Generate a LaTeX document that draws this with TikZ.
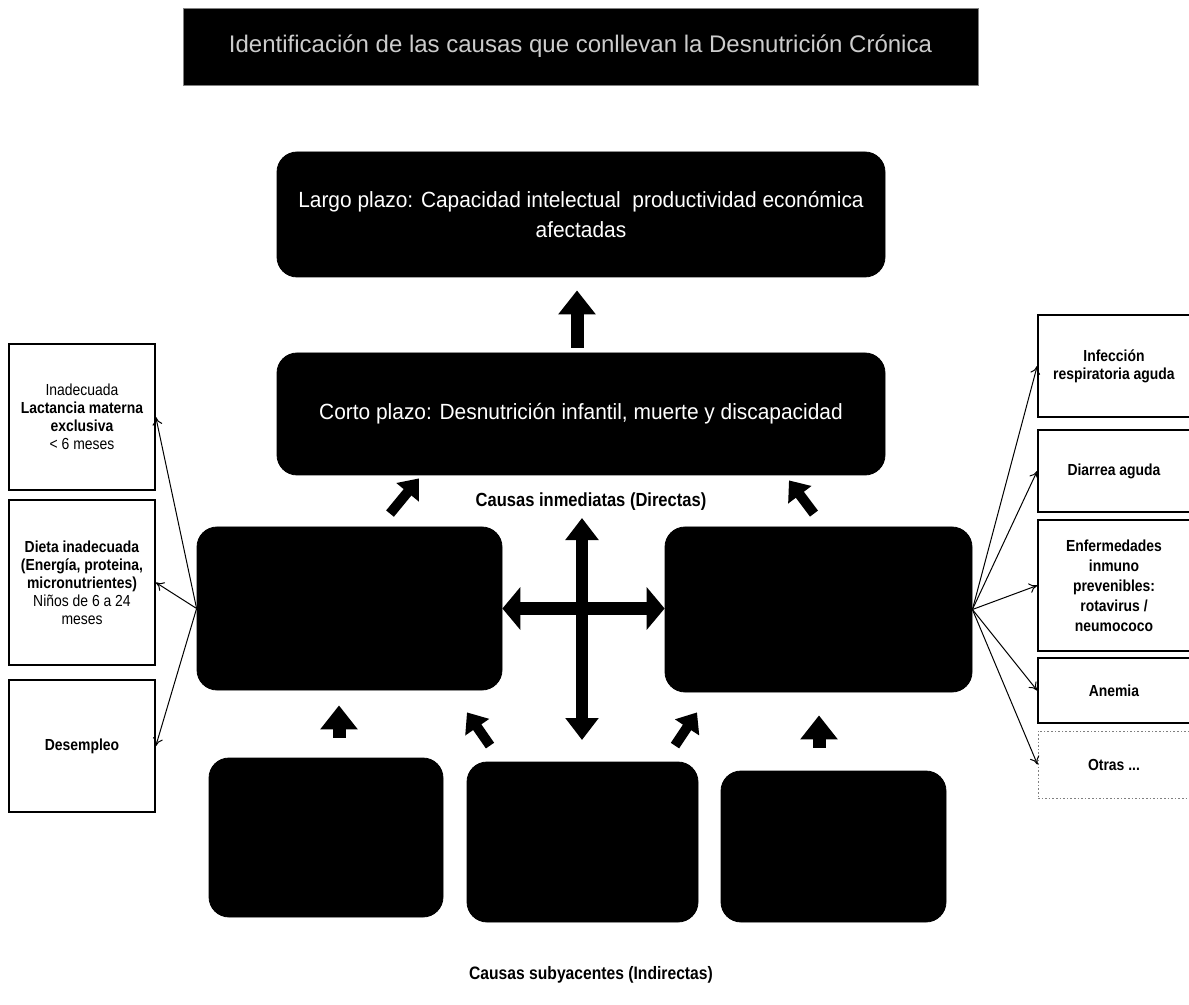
\documentclass[tikz,border=0pt]{standalone}
\usepackage{fontspec}
\setmainfont{Liberation Sans}
\newfontfamily\narrowsans[FakeStretch=0.87]{Liberation Sans}
\newfontfamily\midsans[FakeStretch=0.95]{Liberation Sans}
\usetikzlibrary{arrows.meta}
\tikzstyle{darkbox}=[draw=black, fill=black, rounded corners=10pt, text=white, align=center]
\tikzstyle{sidebox}=[draw=black, line width=0.8pt, fill=white, align=center, minimum width=73pt, font=\narrowsans\fontsize{8}{9}\selectfont]
\tikzstyle{causelabel}=[font=\narrowsans\bfseries\fontsize{9}{11}\selectfont]
\tikzstyle{thinarrow}=[-{To[length=4pt,width=5pt]}, line width=0.5pt]
\tikzstyle{bigarrow}=[line width=6.5pt, -{Triangle[width=18pt,length=12pt]}]
\tikzstyle{smallarrow}=[line width=5pt, -{Triangle[width=14pt,length=9pt]}]

\begin{document}
\begin{tikzpicture}[x=0.5pt, y=0.5pt]
\useasboundingbox (0,0) rectangle (1189,-1005);

\node (titulo) [fill=black, draw=gray, minimum width=397.5pt, minimum height=38.5pt, text=white!80!black, font=\fontsize{12}{14}\selectfont] at (580.5,-46.5) {Identificación de las causas que conllevan la Desnutrición Crónica};

\node (largo) [darkbox, minimum width=304pt, minimum height=62.5pt, font=\midsans\fontsize{11}{15}\selectfont] at (581,-214.5) {Largo plazo: Capacidad intelectual\ \ productividad económica\\afectadas};
\node (corto) [yshift=-99.75pt] at (largo) [darkbox, minimum width=304pt, minimum height=61pt, font=\midsans\fontsize{11}{13}\selectfont] {Corto plazo: Desnutrición infantil, muerte y discapacidad};
\node (inmediatas) [causelabel, font=\narrowsans\bfseries\fontsize{9.5}{11}\selectfont] at (591,-502) {Causas inmediatas (Directas)};

\node (izq) [darkbox, minimum width=152.5pt, minimum height=81.5pt] at (349.5,-608.5) {};
\node (der) [darkbox, minimum width=153.5pt, minimum height=82.5pt] at (818.5,-609.5) {};

\node (sub1) [darkbox, minimum width=117pt, minimum height=79.5pt] at (326,-837.5) {};
\node (sub2) [darkbox, minimum width=115.5pt, minimum height=80pt] at (582.5,-842) {};
\node (sub3) [darkbox, minimum width=112.5pt, minimum height=75.5pt] at (833.5,-846.5) {};
\node (subyacentes) [causelabel] at (591,-975) {Causas subyacentes (Indirectas)};

% causas a la izquierda
\node (lactancia) [sidebox, minimum height=73pt] at (82,-417) {Inadecuada\\\textbf{Lactancia materna}\\\textbf{exclusiva}\\< 6 meses};
\node (dieta) [sidebox, minimum height=82.5pt] at (82,-582.5) {\textbf{Dieta inadecuada}\\\textbf{(Energía, proteina,}\\\textbf{micronutrientes)}\\Niños de 6 a 24\\meses};
\node (desempleo) [sidebox, minimum height=66pt] at (82,-746) {\textbf{Desempleo}};

% causas a la derecha
\node (infeccion) [sidebox, minimum height=51pt, minimum width=76pt] at (1114,-366) {\textbf{Infección}\\\textbf{respiratoria aguda}};
\node (diarrea) [sidebox, minimum height=41pt, minimum width=76pt] at (1114,-471) {\textbf{Diarrea aguda}};
\node (enfermedades) [sidebox, minimum height=65.5pt, minimum width=76pt, font=\narrowsans\bfseries\fontsize{8}{10}\selectfont] at (1114,-585.5) {Enfermedades\\inmuno\\prevenibles:\\rotavirus /\\neumococo};
\node (anemia) [sidebox, minimum height=32.5pt, minimum width=76pt] at (1114,-690.5) {\textbf{Anemia}};
\node (otras) [sidebox, draw=gray, densely dotted, line width=0.5pt, minimum height=33.5pt, minimum width=76pt] at (1114,-764.5) {\textbf{Otras ...}};

\draw [thinarrow] (izq.west) -- (lactancia.east);
\draw [thinarrow] (izq.west) -- (dieta.east);
\draw [thinarrow] (izq.west) -- (desempleo.east);
\draw [thinarrow] (der.east) -- (infeccion.west);
\draw [thinarrow] (der.east) -- (diarrea.west);
\draw [thinarrow] (der.east) -- (enfermedades.west);
\draw [thinarrow] (der.east) -- (anemia.west);
\draw [thinarrow] (der.east) -- (otras.west);

\draw [bigarrow] ([shift={(-2pt,2.5pt)}]corto.north) -- ([shift={(-2pt,-6.5pt)}]largo.south);
\draw [bigarrow] ([shift={(6.5pt,10pt)}]sub1.north) -- ([shift={(-5.25pt,-7.5pt)}]izq.south);
\draw [bigarrow] ([shift={(-7.25pt,11.5pt)}]sub3.north) -- ([shift={(0.25pt,-11.5pt)}]der.south);
\draw [smallarrow] ([shift={(20.25pt,6.5pt)}]izq.north) -- ([shift={(-81pt,-1.5pt)}]corto.south);
\draw [smallarrow] ([shift={(-2.25pt,6.5pt)}]der.north) -- ([shift={(104pt,-2.5pt)}]corto.south);
\draw [smallarrow] ([shift={(-46.25pt,8pt)}]sub2.north) -- ([shift={(58.75pt,-11pt)}]izq.south);
\draw [smallarrow] ([shift={(46.25pt,8pt)}]sub2.north) -- ([shift={(-60.75pt,-10pt)}]der.south);

\coordinate (cruzN) at (582,-518);
\coordinate (cruzS) at (582,-740);
\draw [line width=6pt, {Triangle[width=16pt,length=11pt]}-{Triangle[width=16pt,length=11pt]}] (cruzN) -- (cruzS);
\draw [line width=6.5pt, {Triangle[width=21pt,length=9pt]}-{Triangle[width=21pt,length=9pt]}] (izq.east) -- (izq.east -| der.west);
\end{tikzpicture}
\end{document}
